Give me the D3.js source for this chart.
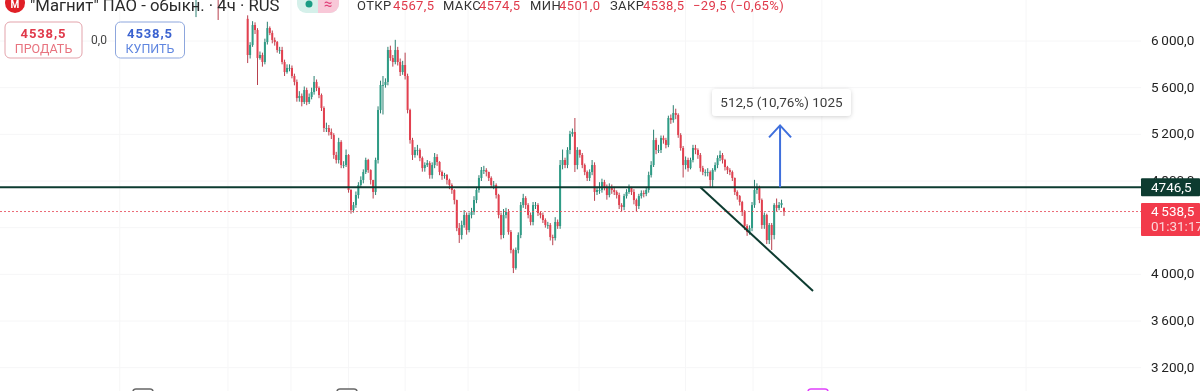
<!DOCTYPE html>
<html>
<head>
<meta charset="utf-8">
<script src="https://cdn.jsdelivr.net/npm/d3@7"></script>
<style>
    html, body { margin: 0; padding: 0; background: #fff; overflow: hidden; }
    svg { display: block; filter: blur(0.5px); font-family: Roboto, "Open Sans", sans-serif; }
</style>
</head>
<body>
<div id="chart"></div>
<script>
// 4h candles
const opens = [6440,6480,6450,6500,6520,6480,6460,6500,6540,6560,6520,6480,6470,6520,6500,6460,6440,6480,6500,6460,6420,
    6190,5880,5966,6137,6094,5854,5880,5820,5991,6111,6069,6009,5991,5923,5923,5820,5734,5769,5769,5700,5649,5511,5529,5477,5580,5477,5520,5563,5649,5597,5537,5426,5254,5254,5220,5194,5023,4980,5134,4937,4937,5023,4723,4551,4594,4680,4766,4809,4877,4980,4894,4809,4706,4980,5409,5623,5623,5649,5923,5854,5820,5923,5820,5734,5794,5700,5409,5151,5023,5066,5066,4997,4911,4937,4954,4851,4937,5006,4963,4877,4843,4851,4809,4766,4723,4637,4397,4337,4423,4509,4380,4509,4534,4637,4723,4826,4894,4894,4877,4826,4766,4766,4680,4509,4337,4509,4534,4363,4209,4054,4209,4337,4594,4654,4594,4509,4449,4594,4594,4526,4509,4466,4423,4423,4320,4311,4449,4414,4937,4980,4937,5066,5203,5220,4937,5066,5023,4937,4877,4826,4877,4937,4706,4723,4723,4791,4749,4680,4740,4723,4706,4680,4594,4577,4671,4706,4740,4706,4637,4586,4671,4697,4689,4723,4851,4937,5151,5066,5066,5169,5151,5109,5340,5323,5383,5366,5194,5083,4937,4980,4911,4980,5083,5066,5023,4911,4877,4877,4877,4809,4894,4937,4997,5023,4980,4920,4894,4877,4826,4706,4671,4620,4534,4414,4363,4397,4594,4723,4740,4637,4423,4509,4294,4423,4337,4594,4569,4594,4567.5];
const closes = [6480,6450,6500,6520,6480,6460,6500,6540,6560,6520,6480,6470,6520,6500,6460,6440,6480,6500,6460,6420,6400,
    5880,5966,6137,6094,5854,5880,5820,5991,6111,6069,6009,5991,5923,5923,5820,5734,5769,5769,5700,5649,5511,5529,5477,5580,5477,5520,5563,5649,5597,5537,5426,5254,5254,5220,5194,5023,4980,5134,4937,4937,5023,4723,4551,4594,4680,4766,4809,4877,4980,4894,4809,4706,4980,5409,5623,5623,5649,5923,5854,5820,5923,5820,5734,5794,5700,5409,5151,5023,5066,5066,4997,4911,4937,4954,4851,4937,5006,4963,4877,4843,4851,4809,4766,4723,4637,4397,4337,4423,4509,4380,4509,4534,4637,4723,4826,4894,4894,4877,4826,4766,4766,4680,4509,4337,4509,4534,4363,4209,4054,4209,4337,4594,4654,4594,4509,4449,4594,4594,4526,4509,4466,4423,4423,4320,4311,4449,4414,4937,4980,4937,5066,5203,5220,4937,5066,5023,4937,4877,4826,4877,4937,4706,4723,4723,4791,4749,4680,4740,4723,4706,4680,4594,4577,4671,4706,4740,4706,4637,4586,4671,4697,4689,4723,4851,4937,5151,5066,5066,5169,5151,5109,5340,5323,5383,5366,5194,5083,4937,4980,4911,4980,5083,5066,5023,4911,4877,4877,4877,4809,4894,4937,4997,5023,4980,4920,4894,4877,4826,4706,4671,4620,4534,4414,4363,4397,4594,4723,4740,4637,4423,4509,4294,4423,4337,4594,4569,4594,4611,4538.5];
const highs = [6500,6510,6500,6540,6550,6500,6510,6560,6580,6580,6540,6500,6540,6540,6510,6480,6500,6530,6520,6480,6440,
    6220,5990,6170,6160,6110,5910,5900,6020,6165,6125,6090,6030,6000,5950,5950,5840,5800,5800,5790,5720,5670,5570,5550,5610,5600,5550,5600,5700,5670,5610,5550,5440,5300,5280,5250,5210,5050,5170,5150,4970,5070,5030,4730,4620,4710,4790,4840,4900,5000,4990,4900,4810,5000,5440,5660,5700,5680,5950,5960,5880,6010,5950,5850,5830,5900,5720,5420,5170,5090,5110,5080,5010,4960,4980,4970,4960,5040,5030,4970,4890,4870,4860,4820,4780,4730,4640,4440,4460,4550,4530,4530,4570,4670,4750,4850,4920,4930,4910,4880,4840,4800,4780,4690,4530,4560,4570,4560,4380,4220,4230,4360,4620,4690,4670,4610,4530,4620,4620,4610,4540,4530,4480,4450,4440,4340,4490,4470,4980,5070,5000,5090,5230,5250,5340,5090,5070,5040,4950,4890,4900,4980,4960,4750,4790,4820,4810,4770,4780,4770,4750,4720,4700,4610,4690,4730,4770,4750,4730,4650,4690,4720,4720,4750,4880,4970,5240,5170,5110,5190,5190,5170,5360,5370,5450,5420,5380,5210,5100,5010,5000,5000,5110,5110,5080,5040,4930,4900,4910,4890,4910,4960,5020,5060,5040,4990,4930,4910,4890,4830,4720,4680,4630,4550,4430,4420,4620,4810,4780,4760,4650,4530,4520,4440,4440,4610,4650,4620,4640,4574.5];
const lows = [6205,6420,6420,6480,6450,6430,6440,6480,6530,6180,6440,6430,6450,6470,6430,6410,6420,6470,6430,6390,6370,
    5811,5850,5950,6060,5623,5840,5780,5800,5970,6050,5980,5960,5900,5890,5800,5700,5720,5740,5680,5620,5480,5480,5440,5460,5450,5460,5500,5540,5570,5510,5400,5220,5220,5190,5160,4990,4950,4950,4910,4910,4920,4700,4520,4530,4570,4650,4740,4780,4860,4870,4770,4650,4680,4950,5380,5370,5600,5620,5830,5780,5800,5790,5700,5710,5670,5380,5120,4980,5000,5020,4970,4880,4880,4920,4820,4820,4910,4930,4850,4810,4820,4770,4730,4690,4600,4370,4269,4300,4400,4340,4360,4480,4510,4610,4700,4800,4860,4840,4800,4740,4730,4650,4480,4300,4310,4480,4340,4180,4011,4040,4180,4310,4570,4560,4480,4420,4420,4560,4500,4480,4440,4400,4390,4290,4250,4290,4390,4390,4900,4910,4910,5030,5180,4877,4900,5000,4910,4850,4800,4800,4850,4630,4680,4690,4700,4720,4640,4660,4690,4680,4650,4560,4540,4550,4650,4690,4680,4600,4540,4560,4650,4660,4670,4700,4830,4920,5030,5040,5040,5120,5080,5090,5290,5300,5330,5170,5060,4830,4900,4880,4900,4960,5030,4990,4880,4850,4840,4840,4750,4740,4880,4910,4970,4950,4890,4860,4850,4800,4680,4640,4590,4500,4380,4330,4340,4370,4570,4690,4610,4390,4390,4260,4260,4209,4300,4540,4550,4570,4501];

// axis and grid
const priceTicks = [6000, 5600, 5200, 4800, 4400, 4000, 3600, 3200];
const timeGrid = [-31, 13, 38.6, 62, 85, 110.6, 155.7, 199, 226.4, 254.4, 337.4];

// drawings and readouts
const levelPrice = 4746.5;
const lastPrice = 4538.5;
const trendIdx = [204.9, 250.8];
const trendPrice = [4749, 3857];
const arrowIdx = 237.4;
const arrowMove = 530;
const headerParts = [
    ["ОТКР", 357, "#333"], ["4567,5", 393, "#e0394a"],
    ["МАКС", 443, "#333"], ["4574,5", 479, "#e0394a"],
    ["МИН", 530, "#333"], ["4501,0", 559, "#e0394a"],
    ["ЗАКР", 610, "#333"], ["4538,5", 643, "#e0394a"],
    ["−29,5 (−0,65%)", 693, "#e0394a"]
];

const width = 1200, height = 391, axisLeft = 1141;
const upColor = "#2f9c86", downColor = "#e2404f", lineDark = "#0d3b30";

const svg = d3.select("#chart").append("svg")
    .attr("width", width)
    .attr("height", height);

const x = d3.scaleLinear().domain([0, closes.length - 1]).range([196, 784]);
const y = d3.scaleLinear().domain([6000, 3200]).range([41, 367.7]);

// grid
svg.append("g").selectAll("line").data(priceTicks).enter().append("line")
    .attr("x1", 0).attr("x2", axisLeft)
    .attr("y1", d => y(d)).attr("y2", d => y(d))
    .attr("stroke", "#f6f6f7");
svg.append("g").selectAll("line").data(timeGrid).enter().append("line")
    .attr("x1", d => x(d)).attr("x2", d => x(d))
    .attr("y1", 0).attr("y2", height)
    .attr("stroke", "#f6f6f7");

// candles
const candles = svg.append("g").selectAll("g").data(closes).enter().append("g");
candles.append("line")
    .attr("x1", (d, i) => x(i)).attr("x2", (d, i) => x(i))
    .attr("y1", (d, i) => y(highs[i])).attr("y2", (d, i) => y(lows[i]))
    .attr("stroke", (d, i) => d >= opens[i] ? "#2a7f70" : "#b8414e")
    .attr("stroke-width", 1);
candles.append("rect")
    .attr("x", (d, i) => x(i) - 1).attr("width", 2)
    .attr("y", (d, i) => y(Math.max(d, opens[i])))
    .attr("height", (d, i) => Math.max(0.8, Math.abs(y(d) - y(opens[i]))))
    .attr("fill", (d, i) => d >= opens[i] ? upColor : downColor);

// last price dotted line
svg.append("line")
    .attr("x1", 0).attr("x2", axisLeft)
    .attr("y1", y(lastPrice)).attr("y2", y(lastPrice))
    .attr("stroke", "#e8505e").attr("stroke-opacity", 0.85)
    .attr("stroke-dasharray", "2 2");

// level and trend line
svg.append("line")
    .attr("x1", 0).attr("x2", axisLeft)
    .attr("y1", y(levelPrice)).attr("y2", y(levelPrice))
    .attr("stroke", lineDark).attr("stroke-width", 2);
svg.append("line")
    .attr("x1", x(trendIdx[0])).attr("x2", x(trendIdx[1]))
    .attr("y1", y(trendPrice[0])).attr("y2", y(trendPrice[1]))
    .attr("stroke", lineDark).attr("stroke-width", 2);

// blue arrow with its label
const ax = x(arrowIdx), ay = y(levelPrice + arrowMove);
svg.append("path")
    .attr("d", `M${ax},${y(levelPrice)}L${ax},${ay}M${ax - 11},${ay + 12}L${ax},${ay}L${ax + 11},${ay + 12}`)
    .attr("fill", "none").attr("stroke", "#3f6fdc").attr("stroke-width", 2);

const defs = svg.append("defs");
const shadow = defs.append("filter").attr("id", "shadow")
    .attr("x", "-10%").attr("y", "-30%").attr("width", "120%").attr("height", "170%");
shadow.append("feDropShadow")
    .attr("dx", 0).attr("dy", 1).attr("stdDeviation", 2)
    .attr("flood-color", "#000").attr("flood-opacity", 0.18);
svg.append("rect")
    .attr("x", 712).attr("y", 89).attr("width", 139).attr("height", 27).attr("rx", 4)
    .attr("fill", "#fff").attr("filter", "url(#shadow)");
svg.append("text")
    .attr("x", 781.5).attr("y", 107).attr("text-anchor", "middle")
    .attr("font-size", 13.5).attr("fill", "#3c3c3c")
    .text("512,5 (10,76%) 1025");

// price axis
const fmt = d => d3.format(",.1f")(d).replace(",", "\u2009").replace(".", ",");
const axis = d3.axisRight(y).tickValues(priceTicks).tickSize(0).tickPadding(0).tickFormat(fmt);
const axisG = svg.append("g")
    .attr("transform", `translate(${axisLeft + 10},-0.8)`)
    .call(axis);
axisG.select(".domain").remove();
axisG.selectAll("text")
    .attr("font-family", "Roboto, 'Open Sans', sans-serif")
    .attr("font-size", 13.5).attr("fill", "#222");

// price tags
svg.append("rect")
    .attr("x", axisLeft).attr("y", y(levelPrice) - 9).attr("width", 59).attr("height", 18).attr("rx", 1)
    .attr("fill", lineDark);
svg.append("text")
    .attr("x", axisLeft + 10).attr("y", y(levelPrice) + 4.5)
    .attr("font-size", 13.5).attr("fill", "#fff").text("4746,5");
svg.append("rect")
    .attr("x", axisLeft).attr("y", 203).attr("width", 59).attr("height", 33).attr("rx", 1)
    .attr("fill", "#f23a4b");
svg.append("text")
    .attr("x", axisLeft + 10).attr("y", 216)
    .attr("font-size", 13.5).attr("fill", "#fff").text("4\u2009538,5");
svg.append("text")
    .attr("x", axisLeft + 10).attr("y", 231)
    .attr("font-size", 13.5).attr("fill", "#fbd5d9").text("01:31:17");

// header
svg.append("circle").attr("cx", 15).attr("cy", 3).attr("r", 10).attr("fill", "#e01f26");
svg.append("text")
    .attr("x", 15).attr("y", 8).attr("text-anchor", "middle")
    .attr("font-size", 10).attr("font-weight", 700).attr("fill", "#fff").text("М");
svg.append("text")
    .attr("x", 30).attr("y", 10.5)
    .attr("font-size", 16.7).attr("fill", "#2a2a2a")
    .text("\"Магнит\" ПАО - обыкн. · 4ч · RUS");

svg.append("rect").attr("x", 297).attr("y", -10).attr("width", 42).attr("height", 23).attr("rx", 9).attr("fill", "#d5f0ea");
svg.append("path").attr("d", "M318,-10h12a9,9 0 0 1 9,9v5a9,9 0 0 1 -9,9h-12z").attr("fill", "#f8c8d8");
svg.append("circle").attr("cx", 309).attr("cy", 4).attr("r", 3.5).attr("fill", "#1a9c84");
svg.append("text").attr("x", 328).attr("y", 9).attr("text-anchor", "middle")
    .attr("font-size", 15).attr("fill", "#e0407a").text("≈");

svg.append("g").selectAll("text").data(headerParts).enter().append("text")
    .attr("x", d => d[1]).attr("y", 9.5)
    .attr("font-size", 13).attr("letter-spacing", 0.4)
    .attr("fill", d => d[2])
    .text(d => d[0]);

// sell / buy buttons
const buttons = [
    {x: 5, w: 77, stroke: "#e3a3ab", top: "#e0394a", sub: "#e8737f", label: "ПРОДАТЬ"},
    {x: 115.5, w: 69, stroke: "#8da6dd", top: "#3a62d0", sub: "#5f86e0", label: "КУПИТЬ"}
];
const btn = svg.append("g").selectAll("g").data(buttons).enter().append("g");
btn.append("rect")
    .attr("x", d => d.x).attr("y", 22).attr("width", d => d.w).attr("height", 36).attr("rx", 5)
    .attr("fill", "#fff").attr("stroke", d => d.stroke);
btn.append("text")
    .attr("x", d => d.x + d.w / 2).attr("y", 38).attr("text-anchor", "middle")
    .attr("font-size", 13).attr("font-weight", 700).attr("letter-spacing", 0.9)
    .attr("fill", d => d.top).text("4538,5");
btn.append("text")
    .attr("x", d => d.x + d.w / 2).attr("y", 53).attr("text-anchor", "middle")
    .attr("font-size", 12.5).attr("fill", d => d.sub).text(d => d.label);
svg.append("text")
    .attr("x", 99).attr("y", 43.5).attr("text-anchor", "middle")
    .attr("font-size", 12).attr("fill", "#444").text("0,0");

// cut off icons along the bottom edge
svg.append("g").selectAll("rect").data([["#666", 133], ["#666", 337], ["#e040fb", 808]]).enter().append("rect")
    .attr("x", d => d[1]).attr("y", 389).attr("width", 20).attr("height", 8).attr("rx", 3)
    .attr("fill", "#fff").attr("stroke", d => d[0]).attr("stroke-width", 1.5);
</script>
</body>
</html>
